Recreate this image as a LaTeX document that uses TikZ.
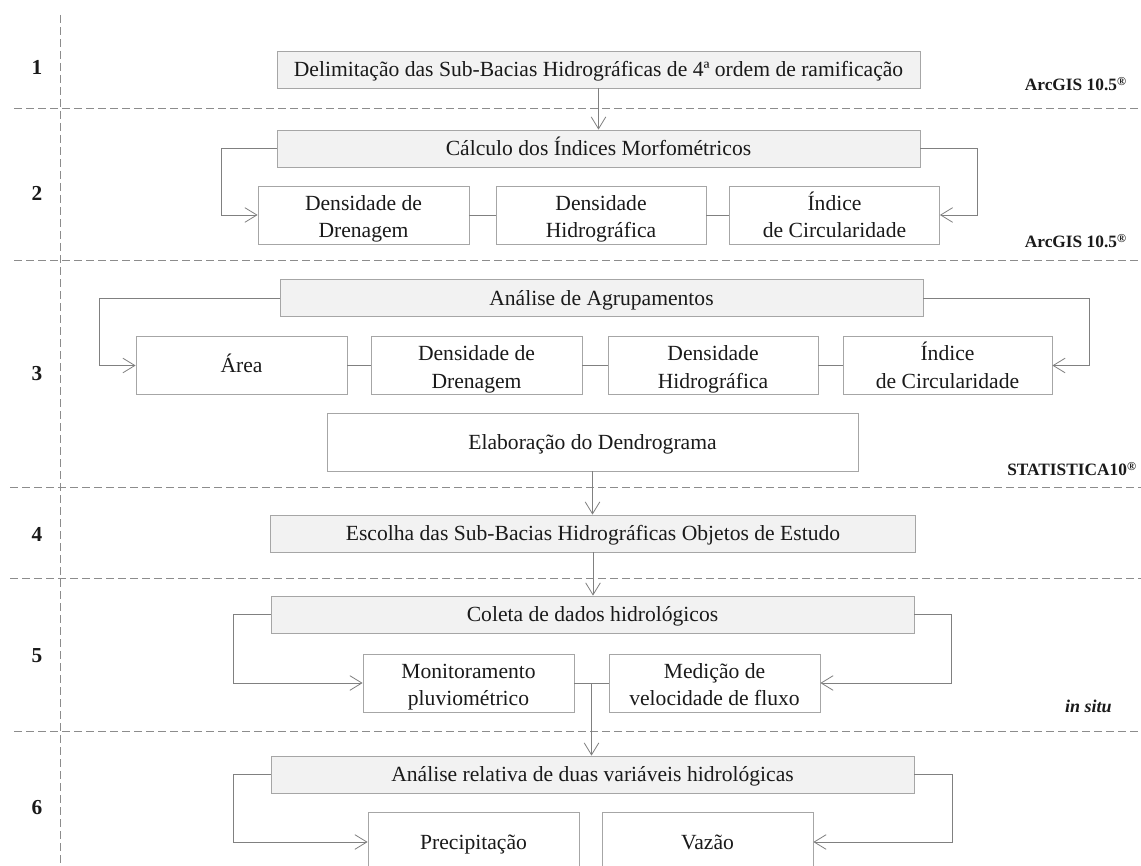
\documentclass[tikz,border=0pt]{standalone}
\usepackage{fontspec}
\setmainfont{Liberation Serif}
\usetikzlibrary{arrows.meta,calc}
\definecolor{boxline}{HTML}{A6A6A6}
\definecolor{boxfill}{HTML}{F2F2F2}
\definecolor{conn}{HTML}{808080}
\definecolor{dash}{HTML}{8C8C8C}
\definecolor{txt}{HTML}{1A1A1A}
\newcommand{\twoline}[2]{\raisebox{-2.7pt}[\height][\depth]{\begin{tabular}{@{}c@{}}#1\\#2\end{tabular}}}
\tikzset{
  x=0.75pt, y=-0.75pt,
  base/.style={draw=boxline, line width=0.6pt, text=txt, inner sep=0pt,
    font=\fontsize{16.2}{20.3}\selectfont},
  one/.style={text height=13.5pt, text depth=2.5pt},
  graybox/.style={base, one, fill=boxfill, minimum width=643*0.75pt, minimum height=37*0.75pt},
  whitebox/.style={base, fill=white, minimum width=211*0.75pt, minimum height=58*0.75pt},
  conline/.style={draw=conn, line width=0.6pt},
  arr/.style={conline, -{Straight Barb[length=9pt,width=11pt,line width=0.6pt]}},
  sep/.style={draw=dash, line width=0.6pt, dash pattern=on 6pt off 3pt},
  stepnum/.style={font=\fontsize{16}{18}\selectfont\bfseries, text=txt, inner sep=0pt},
  soft/.style={font=\fontsize{13}{15}\selectfont\bfseries, text=txt, inner sep=0pt, anchor=east},
}
\begin{document}
\begin{tikzpicture}
\useasboundingbox (0,0) rectangle (1141,866);
\clip (0,0) rectangle (1141,866);
\fill[white] (0,0) rectangle (1141,866);

% separators
\draw[sep] (60,15) -- (60,866);
\draw[sep] (14,108.5) -- (1141,108.5);
\draw[sep] (14,260) -- (1141,260);
\draw[sep] (10,487.5) -- (1141,487.5);
\draw[sep] (10,578) -- (1141,578);
\draw[sep] (14,731.5) -- (1141,731.5);

% step numbers
\node[stepnum] (s1) at (37,67) {1};
\node[stepnum] (s2) at (37,193) {2};
\node[stepnum] (s3) at (37,374) {3};
\node[stepnum] (s4) at (37,534) {4};
\node[stepnum] (s5) at (37,656) {5};
\node[stepnum] (s6) at (37,808) {6};

% software labels
\node[soft] (l1) at (1127,84) {ArcGIS 10.5\textsuperscript{®}};
\node[soft] (l2) at (1127,241) {ArcGIS 10.5\textsuperscript{®}};
\node[soft] (l3) at (1137,469) {STATISTICA10\textsuperscript{®}};
\node[soft, font=\fontsize{13.5}{15}\selectfont\bfseries\itshape] (l5) at (1112,706) {in situ};

% step 1
\node[graybox] (b1) at (598.5,69.5) {Delimitação das Sub-Bacias Hidrográficas de 4ª ordem de ramificação};

% step 2
\node[graybox] (b2) at (598.5,148.5) {Cálculo dos Índices Morfométricos};
\node[whitebox] (b2a) at (363.5,215) {\twoline{Densidade de}{Drenagem}};
\node[whitebox, minimum width=210*0.75pt] (b2b) at (601,215) {\twoline{Densidade}{Hidrográfica}};
\node[whitebox, minimum width=210*0.75pt] (b2c) at (834.5,215) {\twoline{Índice}{de Circularidade}};
\draw[arr] (b1.south) -- (b2.north);
\draw[arr] (b2.west) -- (221,148.5) -- (221,215) -- (b2a.west);
\draw[arr] (b2.east) -- (977,148.5) -- (977,215) -- (b2c.east);
\draw[conline] (b2a.east) -- (b2b.west);
\draw[conline] (b2b.east) -- (b2c.west);

% step 3
\node[graybox] (b3) at (601.5,298) {Análise de Agrupamentos};
\node[whitebox, one] (b3a) at (241.5,365.5) {Área};
\node[whitebox] (b3b) at (476.5,365.5) {\twoline{Densidade de}{Drenagem}};
\node[whitebox, minimum width=210*0.75pt] (b3c) at (713,365.5) {\twoline{Densidade}{Hidrográfica}};
\node[whitebox, minimum width=209*0.75pt] (b3d) at (947.5,365.5) {\twoline{Índice}{de Circularidade}};
\draw[arr] (b3.west) -- (99,298) -- (99,365.5) -- (b3a.west);
\draw[arr] (b3.east) -- (1089,298) -- (1089,365.5) -- (b3d.east);
\draw[conline] (b3a.east) -- (b3b.west);
\draw[conline] (b3b.east) -- (b3c.west);
\draw[conline] (b3c.east) -- (b3d.west);
\node[whitebox, one, minimum width=531*0.75pt] (b3e) at (592.5,442) {Elaboração do Dendrograma};

% step 4
\node[graybox, minimum width=645*0.75pt] (b4) at (593,533.5) {Escolha das Sub-Bacias Hidrográficas Objetos de Estudo};
\draw[arr] (b3e.south) -- (b3e.south |- b4.north);

% step 5
\node[graybox] (b5) at (592.5,614.5) {Coleta de dados hidrológicos};
\draw[arr] (b4.south) -- (b4.south |- b5.north);
\node[whitebox] (b5a) at (468.5,683) {\twoline{Monitoramento}{pluviométrico}};
\node[whitebox] (b5b) at (714.5,683) {\twoline{Medição de}{velocidade de fluxo}};
\draw[arr] (b5.west) -- (233,614.5) -- (233,683) -- (b5a.west);
\draw[arr] (b5.east) -- (951,614.5) -- (951,683) -- (b5b.east);
\draw[conline] (b5a.east) -- (b5b.west);
\coordinate (j5) at ($(b5a.east)!0.5!(b5b.west)$);

% step 6
\node[graybox] (b6) at (592.5,774.5) {Análise relativa de duas variáveis hidrológicas};
\draw[arr] (j5) -- (j5 |- b6.north);
\node[whitebox, one, minimum height=59*0.75pt] (b6a) at (473.5,842) {Precipitação};
\node[whitebox, one, minimum height=59*0.75pt] (b6b) at (707.5,842) {Vazão};
\draw[arr] (b6.west) -- (233,774.5) -- (233,842) -- (b6a.west);
\draw[arr] (b6.east) -- (952,774.5) -- (952,842) -- (b6b.east);
\end{tikzpicture}
\end{document}
